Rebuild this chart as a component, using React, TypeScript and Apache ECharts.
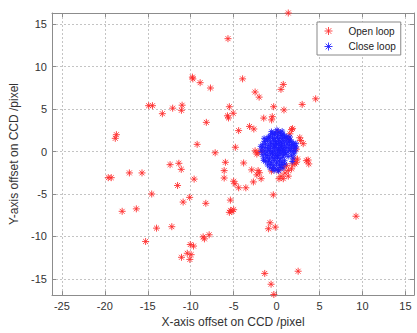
import React, { useEffect, useRef } from "react";
import * as echarts from "echarts";

// Open loop (red) offsets [x, y] in pixels
const openLoop: number[][] = [
  [-9.8, 8.75], [-9.75, 8.55], [-8.9, 8.1], [-7.7, 7.47], [-14.9, 5.39], [-14.45, 5.39],
  [-13.3, 4.45], [-12.1, 5.1], [-11.0, 5.45], [-11.08, 4.85], [-8.18, 3.43], [-9.25, 0.84],
  [-18.65, 1.98], [-18.78, 1.55], [-7.15, -0.15],
  [1.36, 16.3], [-5.66, 13.28], [-3.96, 8.55], [-2.5, 7.0], [-2.03, 6.4], [0.78, 7.89],
  [0.51, 7.31], [4.55, 6.2], [2.98, 5.54], [-0.34, 5.27], [-5.5, 5.27], [0.86, 4.89],
  [-5.72, 4.2], [-5.6, 3.95], [-5.05, 4.5], [-1.5, 3.93], [-0.5, 4.1], [-0.58, 3.72],
  [-3.15, 2.95], [-2.65, 2.65], [-4.42, 2.46], [1.86, 2.69], [0.15, 2.31], [-4.8, 0.5],
  [-2.15, -0.12], [-2.3, -0.3],
  [2.7, 1.62], [3.1, 0.92], [2.8, 1.3], [1.55, 2.08], [1.74, 2.58], [1.36, 1.54],
  [2.13, 0.38], [2.3, 0.27], [2.05, -0.89], [2.43, -0.89], [2.3, -1.27], [2.13, -1.46],
  [3.47, -1.08], [3.75, -1.46], [3.67, -1.0], [1.74, -2.04], [1.36, -2.23], [0.97, -2.54],
  [0.51, -2.92], [0.28, -3.2], [1.36, -2.9], [0.78, -3.2], [0.78, -1.85], [1.16, -1.66],
  [1.86, -1.46], [0.2, -2.23], [-0.6, -2.3], [-1.73, 0.08], [-2.5, 0.08],
  [-5.96, -1.27], [-3.84, -1.35], [-6.1, -2.25], [-6.1, -3.12], [-5.0, -3.5], [-4.85, -3.8],
  [-4.42, -4.27], [-3.58, -4.27], [-2.9, -2.16], [-2.15, -2.25], [-2.0, -2.5], [-2.3, -2.75],
  [-1.8, -3.2], [-2.7, -3.58], [-0.38, -5.1],
  [-12.4, -1.55], [-11.38, -1.39], [-11.1, -2.1], [-11.53, -4.0], [-9.6, -3.25],
  [-19.6, -3.08], [-19.25, -3.08], [-17.14, -2.52], [-15.67, -2.52], [-14.54, -5.0],
  [-17.98, -7.04], [-16.33, -6.75], [-13.98, -9.02], [-15.25, -10.59], [-12.2, -8.85],
  [-10.12, -5.4], [-10.88, -5.95], [-8.24, -6.1], [-5.38, -5.72], [-5.35, -6.93],
  [-5.2, -7.04], [-5.0, -6.85], [-5.5, -7.16], [-11.07, -12.45], [-10.4, -11.98],
  [-9.95, -12.14], [-10.1, -12.7], [-10.05, -10.95], [-9.67, -11.13], [-8.55, -10.05],
  [-8.4, -10.28], [-7.85, -9.8], [9.25, -7.62], [-0.76, -8.39], [-0.95, -9.09],
  [-0.15, -8.9], [-1.38, -14.35], [2.51, -14.09], [-0.64, -15.62], [-0.32, -16.83],
];

// Close loop (blue) offsets [x, y] in pixels
const closeLoop: number[][] = [
  [0.05, 2.55], [0.25, 2.3], [-0.15, 2.25], [0.45, 2.15], [-0.45, 2.1], [0.75, 2.05],
  [-0.7, 1.95], [-0.25, 1.98], [0.12, 1.92], [0.55, 1.88], [0.92, 1.82], [-0.95, 1.72],
  [1.18, 1.78], [-1.2, 1.48], [-0.82, 1.58], [-0.48, 1.62], [-0.18, 1.52], [0.08, 1.68],
  [0.38, 1.57], [0.68, 1.51], [0.97, 1.63], [1.32, 1.47], [1.58, 1.36], [-1.42, 1.18],
  [-1.05, 1.27], [-0.72, 1.14], [-0.38, 1.33], [-0.12, 1.17], [0.22, 1.28], [0.52, 1.12],
  [0.83, 1.22], [1.12, 1.26], [1.43, 1.07], [1.72, 1.18], [1.98, 0.96], [-1.62, 0.83],
  [-1.27, 0.88], [-0.93, 0.72], [-0.62, 0.93], [-0.33, 0.78], [0.03, 0.87], [0.33, 0.72],
  [0.63, 0.92], [0.92, 0.77], [1.23, 0.88], [1.52, 0.73], [1.83, 0.82], [2.12, 0.68],
  [-1.68, 0.42], [-1.33, 0.47], [-1.02, 0.33], [-0.72, 0.52], [-0.42, 0.38], [-0.08, 0.47],
  [0.23, 0.33], [0.52, 0.52], [0.83, 0.38], [1.12, 0.47], [1.43, 0.33], [1.72, 0.52],
  [2.02, 0.38], [2.28, 0.55], [-1.78, 0.02], [-1.43, 0.07], [-1.12, -0.07], [-0.82, 0.12],
  [-0.52, -0.02], [-0.22, 0.08], [0.12, -0.07], [0.42, 0.12], [0.72, 0.02], [1.02, 0.07],
  [1.33, -0.07], [1.62, 0.12], [1.92, 0.02], [2.18, 0.08], [-1.65, -0.38], [-1.32, -0.33],
  [-1.02, -0.47], [-0.72, -0.28], [-0.42, -0.42], [-0.12, -0.33], [0.18, -0.47],
  [0.52, -0.28], [0.82, -0.42], [1.08, -0.33], [1.72, -0.43], [2.02, -0.28], [-1.52, -0.78],
  [-1.13, -0.73], [-0.82, -0.87], [-0.52, -0.68], [-0.22, -0.82], [0.12, -0.73],
  [0.42, -0.87], [0.72, -0.68], [1.92, -0.78], [-1.28, -1.18], [-0.93, -1.13],
  [-0.62, -1.27], [-0.32, -1.08], [0.02, -1.22], [0.32, -1.13], [0.62, -1.27], [0.92, -1.08],
  [1.82, -1.18], [-1.05, -1.58], [-0.72, -1.53], [-0.38, -1.67], [-0.02, -1.48],
  [0.32, -1.62], [0.63, -1.53], [0.98, -1.47], [-0.78, -1.92], [-0.48, -2.02],
  [-0.18, -1.93], [0.12, -2.12], [0.42, -1.88], [0.72, -1.95], [-0.28, -2.25], [0.25, -2.3],
  [0.15, 0.22], [0.35, -0.17], [-0.27, 0.62], [0.57, 0.66], [0.05, -0.52], [-0.47, -0.17],
  [0.72, 0.27], [-0.05, 0.97], [0.28, 1.02], [0.93, -0.13], [-1.45, 1.55], [1.55, 1.7],
  [-1.5, -1.05], [1.35, -0.6], [-1.85, 0.6], [2.25, 0.95], [-0.6, 2.35], [0.65, 2.4],
];

const seriesNames = ["Open loop", "Close loop"];
const xTitle = "X-axis offset on CCD /pixel";
const yTitle = "Y-axis offset on CCD /pixel";

const STAR = "path://M5,0L5,10M0,5L10,5M1.5,1.5L8.5,8.5M1.5,8.5L8.5,1.5";
const RED = "#ff2a2a";
const BLUE = "#1c1cff";
const AXIS = "#8c8c8c";
const TEXT = "#333333";
const FONT = "Liberation Sans, Arial, sans-serif";

const X_MIN = -26.15;
const X_MAX = 16;
const Y_MIN = -16.9;
const Y_MAX = 16.3;

const labelFmt = (v: number) => (Math.abs(v % 5) < 1e-6 ? String(v) : "");

export default function App() {
  const ref = useRef<HTMLDivElement>(null);
  useEffect(() => {
    if (!ref.current) return;
    const chart = echarts.init(ref.current, null, { renderer: "svg" });
    const baseX = {
      type: "value" as const,
      min: X_MIN,
      max: X_MAX,
      splitNumber: 8,
      axisLine: { show: true, onZero: false, lineStyle: { color: AXIS, width: 1 } },
      axisTick: { show: true, inside: true, length: 4, lineStyle: { color: AXIS } },
    };
    const baseY = {
      type: "value" as const,
      min: Y_MIN,
      max: Y_MAX,
      splitNumber: 7,
      axisLine: { show: true, onZero: false, lineStyle: { color: AXIS, width: 1 } },
      axisTick: { show: true, inside: true, length: 4, lineStyle: { color: AXIS } },
    };
    chart.setOption({
      animation: false,
      backgroundColor: "#ffffff",
      textStyle: { fontFamily: FONT },
      grid: { left: 52, right: 1, top: 13, bottom: 33, containLabel: false },
      legend: {
        orient: "vertical",
        left: 317,
        top: 22,
        padding: [2.5, 5, 2, 5],
        itemWidth: 30,
        itemHeight: 8,
        itemGap: 2.5,
        backgroundColor: "#ffffff",
        borderColor: "#888888",
        borderWidth: 1,
        borderRadius: 0,
        textStyle: { fontSize: 10, color: "#222", fontFamily: FONT },
        data: [
          { name: seriesNames[0], icon: STAR, itemStyle: { color: "none", borderColor: RED, borderWidth: 1 } },
          { name: seriesNames[1], icon: STAR, itemStyle: { color: "none", borderColor: BLUE, borderWidth: 1 } },
        ],
      },
      xAxis: [
        {
          ...baseX,
          position: "bottom",
          name: xTitle,
          nameLocation: "middle",
          nameGap: 16,
          nameTextStyle: { fontSize: 12, color: TEXT, fontFamily: FONT },
          axisLabel: { formatter: labelFmt, fontSize: 11, color: TEXT, margin: 5, fontFamily: FONT },
          splitLine: { show: true, lineStyle: { color: "#c4c4c4", type: [2, 2], width: 1 } },
        },
        {
          ...baseX,
          position: "top",
          axisLabel: { show: false },
          splitLine: { show: false },
        },
      ],
      yAxis: [
        {
          ...baseY,
          position: "left",
          name: yTitle,
          nameLocation: "middle",
          nameGap: 25,
          nameTextStyle: { fontSize: 12, color: TEXT, fontFamily: FONT },
          axisLabel: { formatter: labelFmt, fontSize: 11, color: TEXT, margin: 5, fontFamily: FONT },
          splitLine: { show: true, lineStyle: { color: "#c4c4c4", type: [2, 2], width: 1 } },
        },
        {
          ...baseY,
          position: "right",
          axisLabel: { show: false },
          splitLine: { show: false },
        },
      ],
      series: [
        {
          name: seriesNames[0],
          type: "scatter",
          data: openLoop,
          symbol: STAR,
          symbolSize: 7,
          itemStyle: { color: "none", borderColor: RED, borderWidth: 1, opacity: 0.85 },
          z: 2,
        },
        {
          name: seriesNames[1],
          type: "scatter",
          data: closeLoop,
          symbol: STAR,
          symbolSize: 6,
          itemStyle: { color: "none", borderColor: BLUE, borderWidth: 1, opacity: 0.85 },
          z: 3,
        },
      ],
    });
    return () => chart.dispose();
  }, []);
  return (
    <div
      ref={ref}
      style={{ position: "fixed", left: 0, top: 0, width: 417, height: 333, background: "#fff" }}
    />
  );
}
